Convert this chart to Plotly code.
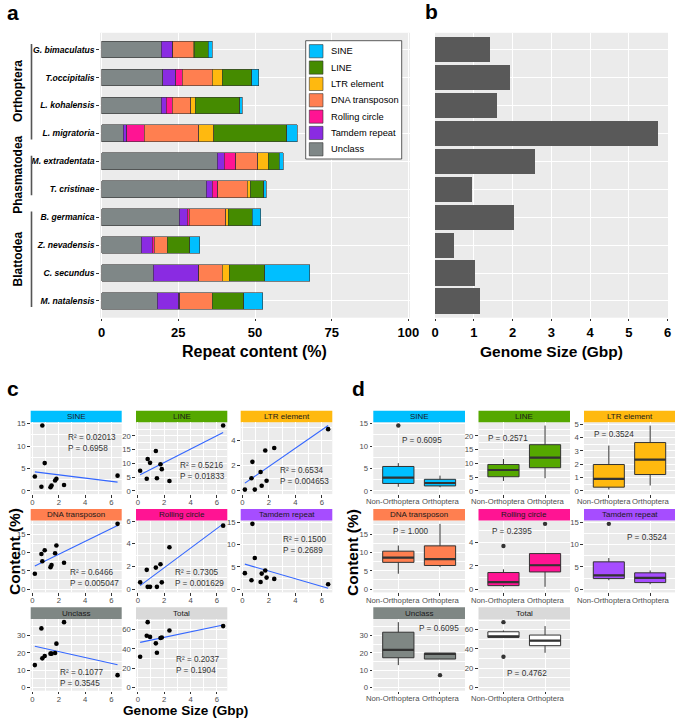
import numpy as np
import plotly.graph_objects as go

W, H = 677, 719
FONT = "Liberation Sans, Arial, sans-serif"

# ---------------- data ----------------
species = ["G. bimaculatus", "T.occipitalis", "L. kohalensis", "L. migratoria",
           "M. extradentata", "T. cristinae", "B. germanica", "Z. nevadensis",
           "C. secundus", "M. natalensis"]
insect_order = ["Orthoptera"] * 4 + ["Phasmatodea"] * 2 + ["Blattodea"] * 4
group = ["Orthoptera"] * 4 + ["Non-Orthoptera"] * 6
group_levels = ["Non-Orthoptera", "Orthoptera"]

unclass = [19.5, 19.9, 19.5, 7.1, 37.7, 34.1, 25.3, 12.9, 16.8, 18.2]
tamdem = [3.5, 4.2, 1.6, 1.1, 2.3, 2.0, 2.6, 3.6, 14.7, 7.0]
rolling = [0.2, 2.2, 1.9, 5.6, 3.7, 1.7, 0.6, 0.6, 0.2, 0.2]
dna = [6.6, 9.8, 6.0, 17.8, 7.2, 9.6, 11.9, 4.2, 7.6, 10.6]
ltr = [0.4, 3.2, 1.5, 4.9, 3.4, 1.0, 0.8, 0.1, 2.3, 0.1]
line_ = [4.6, 9.7, 14.5, 23.8, 3.6, 4.4, 7.9, 7.3, 11.6, 10.2]
sine = [1.2, 2.3, 0.8, 3.4, 1.3, 0.9, 2.7, 3.2, 14.6, 6.2]

genome_size = [1.43, 1.93, 1.59, 5.76, 2.59, 0.96, 2.04, 0.49, 1.02, 1.15]
genome_size_c = [1.45, 1.72, 1.37, 6.47, 2.40, 0.68, 1.82, 0.18, 0.75, 0.93]

components = ["Unclass", "Tamdem repeat", "Rolling circle", "DNA transposon",
              "LTR element", "LINE", "SINE"]
values = {"Unclass": unclass, "Tamdem repeat": tamdem, "Rolling circle": rolling,
          "DNA transposon": dna, "LTR element": ltr, "LINE": line_, "SINE": sine}
total = [round(sum(v[i] for v in values.values()), 2) for i in range(len(species))]
values["Total"] = total

facets = ["SINE", "LINE", "LTR element", "DNA transposon", "Rolling circle",
          "Tamdem repeat", "Unclass", "Total"]

lm_text = {"SINE": ("0.02013", "0.6958"), "LINE": ("0.5216", "0.01833"),
           "LTR element": ("0.6534", "0.004653"), "DNA transposon": ("0.6466", "0.005047"),
           "Rolling circle": ("0.7305", "0.001629"), "Tamdem repeat": ("0.1500", "0.2689"),
           "Unclass": ("0.1077", "0.3545"), "Total": ("0.2037", "0.1904")}
p_text_d = {"SINE": "0.6095", "LINE": "0.2571", "LTR element": "0.3524",
            "DNA transposon": "1.000", "Rolling circle": "0.2395", "Tamdem repeat": "0.3524",
            "Unclass": "0.6095", "Total": "0.4762"}

# ---------------- styles ----------------
col_a = {"SINE": "#00BFFF", "LINE": "#458B00", "LTR element": "#FFB90F",
         "DNA transposon": "#FF7F50", "Rolling circle": "#FF1493",
         "Tamdem repeat": "#8A2BE2", "Unclass": "#7F8787"}
col_f = {"SINE": "#00BFFF", "LINE": "#55A800", "LTR element": "#FFB90F",
         "DNA transposon": "#FF7F50", "Rolling circle": "#FF1493",
         "Tamdem repeat": "#A64DFF", "Unclass": "#7F8784", "Total": "#D9D9D9"}
box_fill = dict(col_f)
box_fill["Total"] = "#FFFFFF"

c_dtick = {"SINE": 5, "LINE": 5, "LTR element": 2, "DNA transposon": 5,
           "Rolling circle": 2, "Tamdem repeat": 5, "Unclass": 10, "Total": 20}
d_dtick = {"SINE": 5, "LINE": 5, "LTR element": 1, "DNA transposon": 5,
           "Rolling circle": 2, "Tamdem repeat": 5, "Unclass": 10, "Total": 20}

# stats text positions (axis-domain fractions)
c_txt_pos = {"SINE": (0.388, 0.715), "LINE": (0.457, 0.317), "LTR element": (0.41, 0.254),
             "DNA transposon": (0.413, 0.206), "Rolling circle": (0.409, 0.206),
             "Tamdem repeat": (0.437, 0.662), "Unclass": (0.303, 0.174), "Total": (0.416, 0.351)}
d_txt_pos = {"SINE": (0.528, 0.743), "LINE": (0.326, 0.777), "LTR element": (0.33, 0.837),
             "DNA transposon": (0.406, 0.855), "Rolling circle": (0.363, 0.855),
             "Tamdem repeat": (0.696, 0.762), "Unclass": (0.716, 0.86), "Total": (0.53, 0.243)}

c_cols = [(30.7, 121.7), (136.0, 227.3), (240.7, 332.3)]
d_cols = [(373.3, 465.0), (478.5, 570.0), (584.0, 675.0)]
row_strip_top = [410.7, 509.0, 607.3]
STRIP_H = 11.6
PANEL_H = 71.8


def px_x(p):
    return p / W


def px_y(p):
    return 1 - p / H


common = dict(showline=False, zeroline=False, showgrid=True, gridcolor="white",
              gridwidth=1.1, ticks="outside", ticklen=2.7, tickwidth=0.9,
              tickcolor="#333333", automargin=False)

fig = go.Figure()
layout = dict(width=W, height=H, margin=dict(l=0, r=0, t=0, b=0, autoexpand=False),
              autosize=False, paper_bgcolor="white", plot_bgcolor="#EBEBEB",
              barmode="stack", font=dict(family=FONT, color="black"), showlegend=False)
shapes = []
annotations = []

# ---------------- panel a ----------------
for comp in components:
    fig.add_trace(go.Bar(x=values[comp], y=species, orientation="h", name=comp,
                         marker=dict(color=col_a[comp], line=dict(color="#333333", width=0.6)),
                         width=0.6, xaxis="x", yaxis="y"))

a_top, a_bot = 32.8, 317.7
layout["xaxis"] = dict(domain=[px_x(100), px_x(410)], anchor="y", range=[-0.55, 100.55],
                       tickvals=[0, 25, 50, 75, 100],
                       tickfont=dict(size=13, color="black", weight="bold"), **common)
layout["yaxis"] = dict(domain=[px_y(a_bot), px_y(a_top)], anchor="x", type="category",
                       categoryorder="array", categoryarray=species, range=[9.6, -0.6],
                       tickfont=dict(size=8.6, color="black", weight="bold", style="italic"),
                       **common)

# group brackets
for name in ["Orthoptera", "Phasmatodea", "Blattodea"]:
    idx = [i for i, o in enumerate(insect_order) if o == name]
    shapes.append(dict(type="line", xref="paper", yref="y", x0=px_x(31.5), x1=px_x(31.5),
                       y0=idx[0] - 0.2, y1=idx[-1] + 0.22,
                       line=dict(color="#555555", width=1.6)))
    annotations.append(dict(text=name, xref="paper", yref="y", x=px_x(18.5),
                            y=(idx[0] + idx[-1]) / 2, textangle=-90, showarrow=False,
                            font=dict(size=12, color="black", weight="bold"),
                            xanchor="center", yanchor="middle"))

# legend (drawn as keys + labels)
leg_l, leg_r, leg_t, leg_b = 305.7, 401.7, 40.7, 159.0
shapes.append(dict(type="rect", xref="paper", yref="paper", x0=px_x(leg_l), x1=px_x(leg_r),
                   y0=px_y(leg_b), y1=px_y(leg_t), fillcolor="white",
                   line=dict(color="#333333", width=0.8)))
for k, comp in enumerate(reversed(components)):
    cy = 51.2 + 16.35 * k
    shapes.append(dict(type="rect", xref="paper", yref="paper", x0=px_x(309.3),
                       x1=px_x(323.0), y0=px_y(cy + 6.6), y1=px_y(cy - 6.6),
                       fillcolor=col_a[comp], line=dict(color="#333333", width=0.6)))
    annotations.append(dict(text=comp, xref="paper", yref="paper", x=px_x(328.5),
                            y=px_y(cy), showarrow=False, xanchor="left", yanchor="middle",
                            font=dict(size=9.3, color="black")))

# ---------------- panel b ----------------
fig.add_trace(go.Bar(x=genome_size, y=species, orientation="h", showlegend=False,
                     marker=dict(color="#595959", line=dict(width=0)), width=0.9,
                     xaxis="x2", yaxis="y2"))
layout["xaxis2"] = dict(domain=[px_x(435), px_x(668)], anchor="y2", range=[0, 6.01],
                        tickvals=[0, 1, 2, 3, 4, 5, 6],
                        tickfont=dict(size=13, color="black", weight="bold"), **common)
cb = dict(common)
cb["ticks"] = ""
layout["yaxis2"] = dict(domain=[px_y(a_bot), px_y(a_top)], anchor="x2", type="category",
                        categoryorder="array", categoryarray=species, range=[9.6, -0.6],
                        showticklabels=False, **cb)

# ---------------- facets c and d ----------------
tickfont_s = dict(size=7.7, color="#4D4D4D")
xg = np.array(genome_size_c)
for i, f in enumerate(facets):
    r, c = divmod(i, 3)
    top = row_strip_top[r]
    ptop = top + STRIP_H
    pbot = ptop + PANEL_H
    yv = np.array(values[f], dtype=float)

    # ---- c: scatter + lm ----
    k = 3 + i
    xa, ya = f"x{k}", f"y{k}"
    slope, icpt = np.polyfit(xg, yv, 1)
    xl = np.array([xg.min(), xg.max()])
    yl = slope * xl + icpt
    fig.add_trace(go.Scatter(x=xl, y=yl, mode="lines", line=dict(color="#3366FF", width=1.1),
                             showlegend=False, xaxis=xa, yaxis=ya))
    fig.add_trace(go.Scatter(x=xg, y=yv, mode="markers", showlegend=False,
                             marker=dict(color="black", size=4.6), xaxis=xa, yaxis=ya))
    lo = min(0.0, yv.min(), yl.min())
    hi = max(yv.max(), yl.max())
    pad = 0.05 * (hi - lo)
    xr = xg.max() - xg.min()
    x0, x1 = c_cols[c]
    layout[f"xaxis{k}"] = dict(domain=[px_x(x0), px_x(x1)], anchor=ya,
                               range=[xg.min() - 0.05 * xr, xg.max() + 0.05 * xr],
                               dtick=2, tick0=0, tickfont=tickfont_s, tickangle=0,
                               ticklabelstandoff=-2,
                               minor=dict(dtick=1, tick0=0, showgrid=True, gridcolor="white",
                                          gridwidth=0.55, ticks=""), **common)
    dt = c_dtick[f]
    layout[f"yaxis{k}"] = dict(domain=[px_y(pbot), px_y(ptop)], anchor=xa,
                               range=[lo - pad, hi + pad], dtick=dt, tick0=0,
                               tickfont=tickfont_s,
                               minor=dict(dtick=dt / 2, tick0=0, showgrid=True,
                                          gridcolor="white", gridwidth=0.55, ticks=""),
                               **common)
    shapes.append(dict(type="rect", xref="paper", yref="paper", x0=px_x(x0), x1=px_x(x1),
                       y0=px_y(ptop), y1=px_y(top), fillcolor=col_f[f], line=dict(width=0),
                       layer="below"))
    annotations.append(dict(text=f, xref="paper", yref="paper", x=px_x((x0 + x1) / 2),
                            y=px_y(top + STRIP_H / 2), showarrow=False,
                            font=dict(size=8, color="#1A1A1A"),
                            xanchor="center", yanchor="middle"))
    r2, pv = lm_text[f]
    fx, fy = c_txt_pos[f]
    annotations.append(dict(text=f"R² = {r2}<br>P = {pv}", xref=f"{xa} domain",
                            yref=f"{ya} domain", x=fx, y=fy, showarrow=False, align="left",
                            xanchor="left", yanchor="middle",
                            font=dict(size=8.2, color="#333333")))

    # ---- d: boxplots ----
    k = 11 + i
    xa, ya = f"x{k}", f"y{k}"
    q1s, meds, q3s, lfs, ufs = [], [], [], [], []
    ox, oy, mx, my = [], [], [], []
    for gi, gname in enumerate(group_levels):
        g = np.array([yv[j] for j in range(len(species)) if group[j] == gname])
        q1, med, q3 = np.percentile(g, [25, 50, 75])
        iqr = q3 - q1
        inside = g[(g >= q1 - 1.5 * iqr) & (g <= q3 + 1.5 * iqr)]
        q1s.append(q1); meds.append(med); q3s.append(q3)
        lfs.append(inside.min()); ufs.append(inside.max())
        for v in g:
            if v < q1 - 1.5 * iqr or v > q3 + 1.5 * iqr:
                ox.append(gi + 1); oy.append(v)
        mx += [gi + 1 - 0.375, gi + 1 + 0.375, None]
        my += [med, med, None]
    fig.add_trace(go.Box(x=[1, 2], q1=q1s, median=meds, q3=q3s, lowerfence=lfs,
                         upperfence=ufs, width=0.75, whiskerwidth=0, boxpoints=False,
                         fillcolor=box_fill[f], line=dict(color="#333333", width=1),
                         showlegend=False, xaxis=xa, yaxis=ya))
    fig.add_trace(go.Scatter(x=mx, y=my, mode="lines", line=dict(color="#333333", width=2.2),
                             showlegend=False, xaxis=xa, yaxis=ya))
    if ox:
        fig.add_trace(go.Scatter(x=ox, y=oy, mode="markers", showlegend=False,
                                 marker=dict(color="#333333", size=4.4), xaxis=xa, yaxis=ya))
    hi = yv.max()
    pad = 0.05 * hi
    x0, x1 = d_cols[c]
    layout[f"xaxis{k}"] = dict(domain=[px_x(x0), px_x(x1)], anchor=ya, range=[0.4, 2.6],
                               tickvals=[1, 2], showticklabels=False, **common)
    # group labels under the boxes
    for gi, gname in enumerate(group_levels):
        annotations.append(dict(text=gname, xref=xa, yref=f"{ya} domain", x=gi + 1, y=0,
                                xshift=(-5 if gi == 0 else 0.5), yshift=-2.2,
                                showarrow=False, xanchor="center", yanchor="top",
                                borderpad=0, font=dict(size=7.7, color="#4D4D4D")))
    dt = d_dtick[f]
    layout[f"yaxis{k}"] = dict(domain=[px_y(pbot), px_y(ptop)], anchor=xa,
                               range=[-pad, hi + pad], dtick=dt, tick0=0, tickfont=tickfont_s,
                               minor=dict(dtick=dt / 2, tick0=0, showgrid=True,
                                          gridcolor="white", gridwidth=0.55, ticks=""),
                               **common)
    shapes.append(dict(type="rect", xref="paper", yref="paper", x0=px_x(x0), x1=px_x(x1),
                       y0=px_y(ptop), y1=px_y(top), fillcolor=col_f[f], line=dict(width=0),
                       layer="below"))
    annotations.append(dict(text=f, xref="paper", yref="paper", x=px_x((x0 + x1) / 2),
                            y=px_y(top + STRIP_H / 2), showarrow=False,
                            font=dict(size=8, color="#1A1A1A"),
                            xanchor="center", yanchor="middle"))
    fx, fy = d_txt_pos[f]
    annotations.append(dict(text=f"P = {p_text_d[f]}", xref=f"{xa} domain",
                            yref=f"{ya} domain", x=fx, y=fy, showarrow=False,
                            xanchor="center", yanchor="middle",
                            font=dict(size=8.2, color="#333333")))

# ---------------- titles & panel letters ----------------
def txt(t, x, y, size, angle=0):
    annotations.append(dict(text=t, xref="paper", yref="paper", x=px_x(x), y=px_y(y),
                            showarrow=False, textangle=angle, xanchor="center",
                            yanchor="middle", borderpad=0,
                            font=dict(size=size, color="black", weight="bold")))

txt("Repeat content (%)", 255, 352, 16)
txt("Genome Size (Gbp)", 185, 710.8, 13.6)
txt("Genome Size (Gbp)", 551, 352, 15.5)
txt("Content (%)", 14, 552, 15.5, -90)
txt("Content (%)", 352, 552, 15.5, -90)
txt("a", 12.5, 12, 21)
txt("b", 431, 11, 21)
txt("c", 12.5, 388, 21)
txt("d", 358, 388, 21)

layout["shapes"] = shapes
layout["annotations"] = annotations
fig.update_layout(**layout)
fig.write_html("out.html", config={"displayModeBar": False},
               post_script="document.body.style.margin='0';"
                           "document.body.style.overflow='hidden';")
